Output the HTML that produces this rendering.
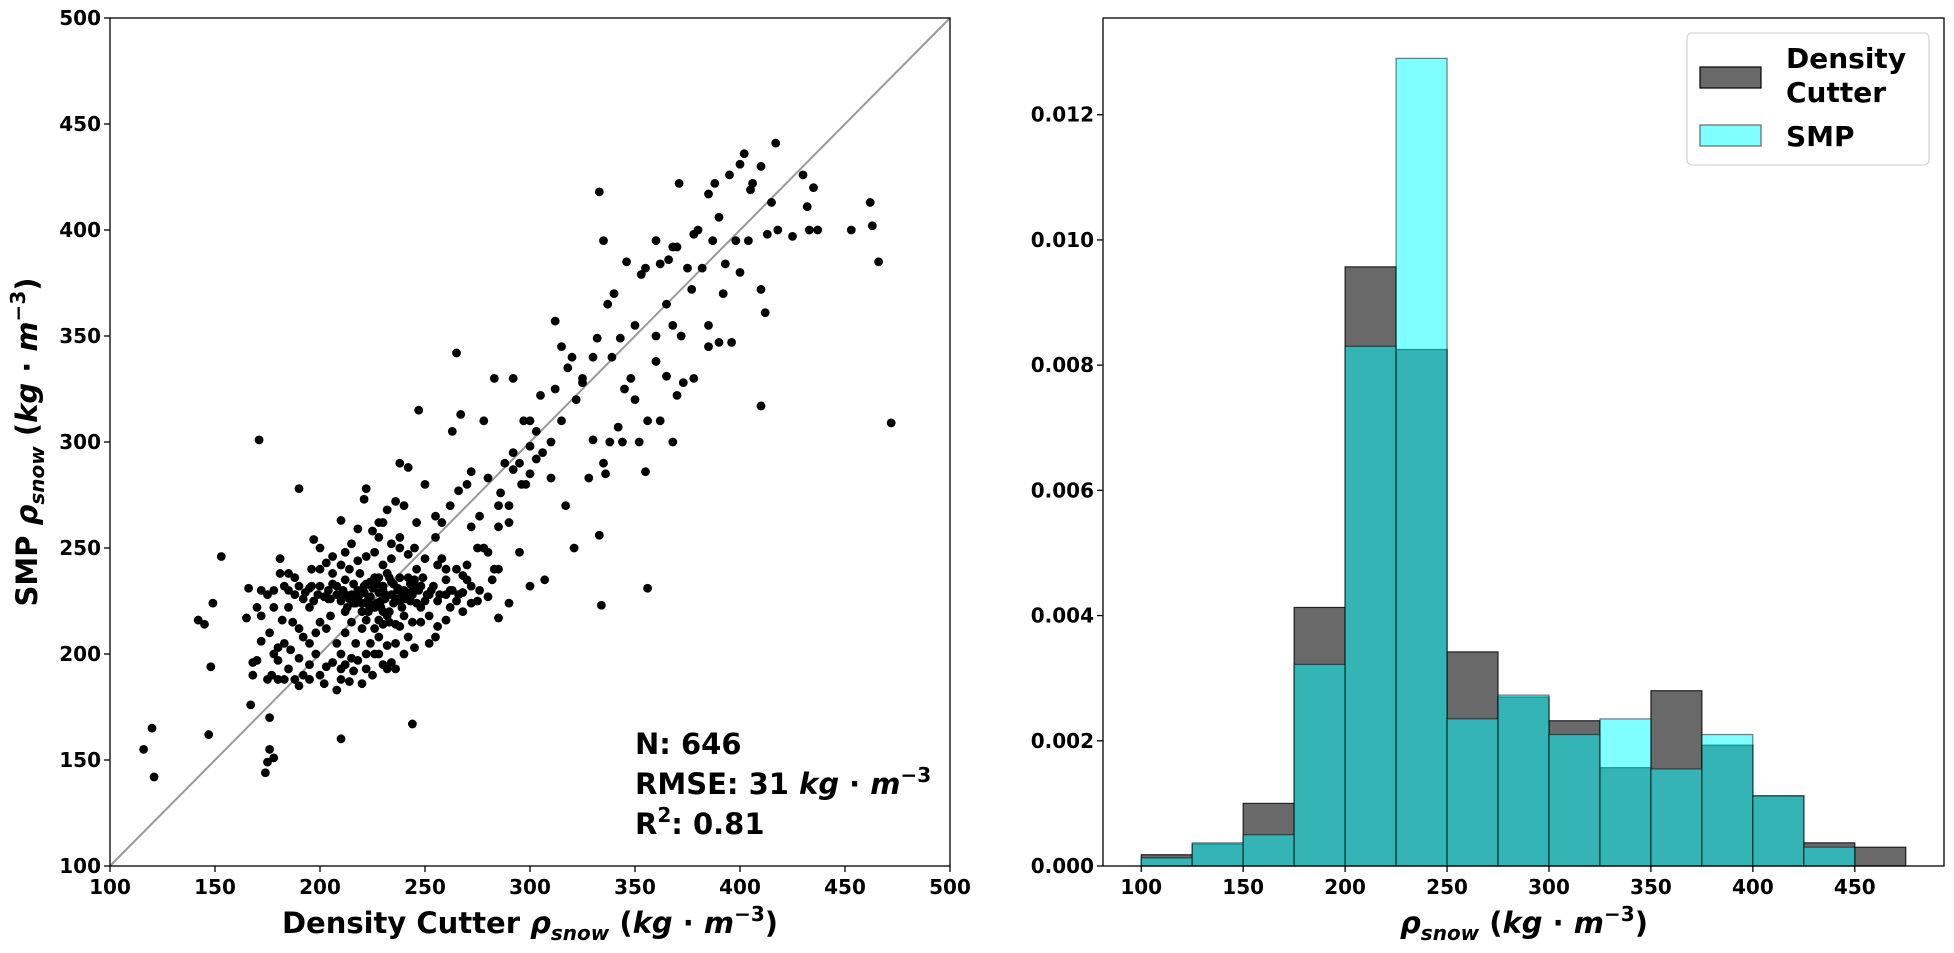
<!DOCTYPE html>
<html><head><meta charset="utf-8"><style>
html,body{margin:0;padding:0;background:#fff;}
svg{display:block;font-family:"DejaVu Sans","Liberation Sans",sans-serif;font-weight:bold;}
</style></head><body>
<svg id="fig" width="1954" height="953" viewBox="0 0 1954 953" xmlns="http://www.w3.org/2000/svg">
<g id="left"></g>
<g id="right"></g>
</svg>
<script>
const scatterX = [116,120,121,142,145,147,148,149,153,166,167,168,171,172,174,175,176,178,176,177,180,181,181,190,195,197,200,210,210,221,222,225,228,244,247,265,263,267,272,278,283,292,
333,335,332,337,340,346,350,353,355,360,362,366,368,370,371,375,378,380,385,387,388,390,393,395,398,400,402,405,406,410,413,417,415,418,425,430,432,435,433,437,453,462,463,466,472,410,412,410,404,400,396,392,385,382,377,372,370,368,365,362,360,356,355,352,348,345,342,338,335,333,334,330,325,322,320,318,315,312,312,310,307,305,303,300,300,298,296,295,292,290,288,286,285,283,282,280,278,275,272,270,268,265,263,260,258,256,255,253,250,248,245,242,240,
321,317,328,336,344,350,356,365,373,378,385,390,360,368,343,339,330,325,315,310,306,303,300,297,292,285,290,280,276,270,266,262,258,255,250,246,242,238,240,236,232,245,250,260,270,280,285,295,290,300,285,275,268,262,255,252,248,243,260,
185,188,190,192,193,195,197,199,200,202,204,205,206,208,210,211,212,213,215,216,217,218,219,220,221,222,223,224,225,226,227,228,229,230,231,232,233,234,235,236,237,238,239,240,241,243,244,246,247,249,251,254,257,262,266,272,276,218,222,226,230,234,238,242,214,210,206,200,196,188,183,178,175,185,187,190,192,195,198,200,203,205,208,210,212,215,217,220,222,224,226,228,230,232,234,236,238,240,242,245,198,195,192,188,185,183,180,186,190,200,203,206,210,212,214,216,218,220,222,225,228,230,232,236,208,202,212,236,240,244,248,252,256,260,265,268,272,256,234,238,230,228,218,215,212,206,203,196,185,182,178,172,170,176,183,178,170,172,165,168,175,180,190,195,210,215,222,226,233,238,246,
214,217,219,221,223,225,227,229,231,233,235,237,239,241,224,226,228,230,232,220,216,212,208,204,244,248,252,236,232,228,224,220,218,222,226,230,234,238,242,246];
const scatterY = [155,165,142,216,214,162,194,224,246,231,176,196,301,230,144,149,155,151,170,190,203,238,245,278,222,254,250,160,263,273,278,258,255,167,315,342,305,313,286,310,330,330,
418,395,349,365,370,385,355,379,382,395,384,386,392,392,422,382,398,400,417,395,422,406,384,426,395,431,436,419,422,430,398,441,413,400,397,426,411,420,400,400,400,413,402,385,309,317,361,372,395,380,347,370,355,382,372,350,322,300,331,310,350,231,286,300,330,325,307,300,290,256,223,301,330,320,340,335,345,357,325,300,235,322,292,310,285,280,280,290,295,270,290,276,260,240,235,227,250,250,260,242,237,240,230,240,245,242,255,230,225,232,235,228,226,
250,270,283,285,300,320,310,365,328,330,345,347,338,355,349,340,340,328,310,283,295,305,298,310,287,270,262,283,265,280,277,270,262,265,280,262,288,290,270,272,268,250,245,235,235,248,240,248,224,232,217,225,220,222,208,205,215,225,228,
230,228,232,226,229,231,225,228,232,227,230,226,233,228,225,230,235,222,228,233,226,230,238,224,229,233,220,227,231,236,224,229,222,232,226,238,220,228,233,225,230,236,222,230,226,233,228,224,230,236,228,232,228,230,228,232,230,244,246,248,242,245,250,247,240,242,238,240,240,236,232,230,228,222,215,212,208,205,210,215,212,218,205,200,210,215,205,212,216,205,200,208,214,204,196,205,213,200,208,203,200,195,190,188,193,188,197,202,198,190,194,196,188,195,187,192,197,186,193,190,200,195,193,193,183,186,220,214,218,215,222,218,213,216,225,229,224,225,252,255,262,262,259,252,248,246,243,232,238,216,222,218,222,210,205,200,197,206,217,190,188,188,185,188,193,198,200,212,215,225,240,
226,224,228,232,226,223,233,225,228,236,224,231,227,229,234,222,236,220,238,224,224,228,232,226,230,232,228,226,218,216,222,220,226,224,222,230,234,226,236,232];
const sxTicks = [100,150,200,250,300,350,400,450,500];
const syTicks = [100,150,200,250,300,350,400,450,500];

const binStarts = [100,125,150,175,200,225,250,275,300,325,350,375,400,425,450];
const dcDensity = [0.00018,0.00035,0.0010,0.00413,0.00957,0.00825,0.00342,0.0027,0.00232,0.00157,0.0028,0.00193,0.00112,0.00037,0.0003];
const smpDensity = [0.00013,0.00037,0.0005,0.00322,0.0083,0.0129,0.00235,0.00273,0.0021,0.00235,0.00155,0.0021,0.00112,0.0003,0];
const hxTicks = [100,150,200,250,300,350,400,450];
const hyTicks = [0,0.002,0.004,0.006,0.008,0.010,0.012];

const NS="http://www.w3.org/2000/svg";
function mk(parent,tag,attrs,text){const e=document.createElementNS(NS,tag);for(const k in attrs)e.setAttribute(k,attrs[k]);if(text!==undefined)e.textContent=text;parent.appendChild(e);return e;}

// ---- left scatter ----
const L={x0:110,x1:950,y0:866,y1:18};
const lx=v=>L.x0+(v-100)/400*(L.x1-L.x0);
const ly=v=>L.y0-(v-100)/400*(L.y0-L.y1);
const left=document.getElementById('left');
let e;
e=mk(left,'line',{x1:lx(100),y1:ly(100),x2:lx(500),y2:ly(500),stroke:'#999','stroke-width':2});


for(let i=0;i<scatterX.length;i++){
  e=mk(left,'circle',{cx:lx(scatterX[i]),cy:ly(scatterY[i]),r:4.4,fill:'#000'});
  
  
}
e=mk(left,'rect',{x:L.x0,y:L.y1,width:L.x1-L.x0,height:L.y0-L.y1,fill:'none',stroke:'#000','stroke-width':1.3});


sxTicks.forEach(t=>{
  e=mk(left,'line',{x1:lx(t),x2:lx(t),y1:L.y0,y2:L.y0+6,stroke:'#000','stroke-width':1.3});
  
  
  e=mk(left,'text',{x:lx(t),y:L.y0+28,'text-anchor':'middle','font-size':20},String(t));
  
  
});
syTicks.forEach(t=>{
  e=mk(left,'line',{x1:L.x0-6,x2:L.x0,y1:ly(t),y2:ly(t),stroke:'#000','stroke-width':1.3});
  
  
  e=mk(left,'text',{x:L.x0-9,y:ly(t)+7,'text-anchor':'end','font-size':20},String(t));
  
  
});
</script>
<script>
(function(){
const left=document.getElementById('left');
left.insertAdjacentHTML('beforeend',
 '<text x="530" y="933" text-anchor="middle" font-size="29">Density Cutter <tspan font-style="italic">ρ</tspan><tspan font-style="italic" font-size="20" dy="7">snow</tspan><tspan dy="-7"> (</tspan><tspan font-style="italic">kg</tspan> · <tspan font-style="italic">m</tspan><tspan font-size="20" dy="-12">−3</tspan><tspan dy="12">)</tspan></text>'+
 '<text transform="translate(37,442) rotate(-90)" text-anchor="middle" font-size="29">SMP <tspan font-style="italic">ρ</tspan><tspan font-style="italic" font-size="20" dy="7">snow</tspan><tspan dy="-7"> (</tspan><tspan font-style="italic">kg</tspan> · <tspan font-style="italic">m</tspan><tspan font-size="20" dy="-12">−3</tspan><tspan dy="12">)</tspan></text>'+
 '<text x="635" y="754" font-size="29">N: 646</text>'+
 '<text x="635" y="794" font-size="29">RMSE: 31 <tspan font-style="italic">kg</tspan> · <tspan font-style="italic">m</tspan><tspan font-size="20" dy="-12">−3</tspan></text>'+
 '<text x="635" y="834" font-size="29">R<tspan font-size="20" dy="-12">2</tspan><tspan dy="12">: 0.81</tspan></text>');
})();
</script>
<script>
(function(){
const R={x0:1103,x1:1944,y0:866,y1:18,xmin:81.25,xmax:493.75,ymax:0.013545};
const hx=v=>R.x0+(v-R.xmin)/(R.xmax-R.xmin)*(R.x1-R.x0);
const hy=v=>R.y0-v/R.ymax*(R.y0-R.y1);
const right=document.getElementById('right');
let e;
for(let i=0;i<binStarts.length;i++){
  const xa=hx(binStarts[i]),xb=hx(binStarts[i]+25);
  e=mk(right,'rect',{x:xa,y:hy(dcDensity[i]),width:xb-xa,height:R.y0-hy(dcDensity[i]),fill:'#696969','fill-opacity':1,stroke:'#000','stroke-opacity':0.8,'stroke-width':1.2});
  
  
}
for(let i=0;i<binStarts.length;i++){
  if(smpDensity[i]<=0) continue;
  const xa=hx(binStarts[i]),xb=hx(binStarts[i]+25);
  e=mk(right,'rect',{x:xa,y:hy(smpDensity[i]),width:xb-xa,height:R.y0-hy(smpDensity[i]),fill:'#00ffff','fill-opacity':0.5,stroke:'#000','stroke-opacity':0.5,'stroke-width':1.2});
  
  
}
e=mk(right,'rect',{x:R.x0,y:R.y1,width:R.x1-R.x0,height:R.y0-R.y1,fill:'none',stroke:'#000','stroke-width':1.3});


hxTicks.forEach(t=>{
  e=mk(right,'line',{x1:hx(t),x2:hx(t),y1:R.y0,y2:R.y0+6,stroke:'#000','stroke-width':1.3});
  
  
  e=mk(right,'text',{x:hx(t),y:R.y0+28,'text-anchor':'middle','font-size':20},String(t));
  
  
});
hyTicks.forEach(t=>{
  e=mk(right,'line',{x1:R.x0-6,x2:R.x0,y1:hy(t),y2:hy(t),stroke:'#000','stroke-width':1.3});
  
  
  e=mk(right,'text',{x:R.x0-9,y:hy(t)+7,'text-anchor':'end','font-size':20},t.toFixed(3));
  
  
});
right.insertAdjacentHTML('beforeend',
 '<text x="1524" y="933" text-anchor="middle" font-size="29"><tspan font-style="italic">ρ</tspan><tspan font-style="italic" font-size="20" dy="7">snow</tspan><tspan dy="-7"> (</tspan><tspan font-style="italic">kg</tspan> · <tspan font-style="italic">m</tspan><tspan font-size="20" dy="-12">−3</tspan><tspan dy="12">)</tspan></text>'+
 '<g>'+
 '<rect x="1687" y="33" width="242" height="132" rx="5" fill="#fff" fill-opacity="0.8" stroke="#d6d6d6" stroke-width="1.3"/>'+
 '<rect x="1700" y="67" width="61" height="21" fill="#696969" stroke="#000" stroke-width="1.2"/>'+
 '<text x="1786" y="68" font-size="28">Density</text>'+
 '<text x="1786" y="102" font-size="28">Cutter</text>'+
 '<rect x="1700" y="125" width="61" height="21" fill="#80ffff" stroke="#666" stroke-width="1.2"/>'+
 '<text x="1786" y="146" font-size="28">SMP</text>'+
 '</g>');
})();
</script>
</body></html>
